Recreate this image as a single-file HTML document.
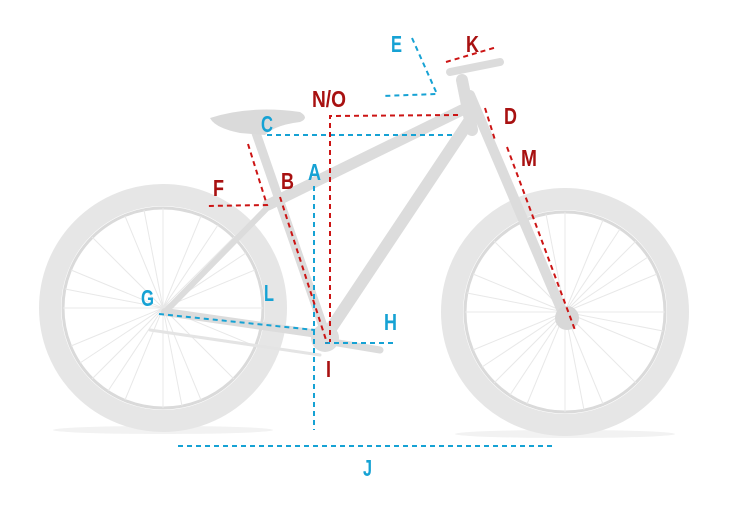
<!DOCTYPE html>
<html><head><meta charset="utf-8"><style>
html,body{margin:0;padding:0;background:#fff;width:756px;height:507px;overflow:hidden}
text{font-family:"Liberation Sans",sans-serif;font-weight:bold;font-size:23px}
.b{fill:#16a2d4}.r{fill:#a81111}
</style></head><body>
<svg width="756" height="507" viewBox="0 0 756 507">
<defs>
<g id="sp" stroke="#e8e8e8" stroke-width="1">
<line x1="-100" y1="0" x2="100" y2="0"/><line x1="0" y1="-100" x2="0" y2="100"/>
<line x1="-71" y1="-71" x2="71" y2="71"/><line x1="-71" y1="71" x2="71" y2="-71"/>
<line x1="-92" y1="-38" x2="92" y2="38"/><line x1="-92" y1="38" x2="92" y2="-38"/>
<line x1="-38" y1="-92" x2="38" y2="92"/><line x1="-38" y1="92" x2="38" y2="-92"/>
<line x1="-98" y1="-19" x2="98" y2="19"/><line x1="-19" y1="-98" x2="19" y2="98"/>
<line x1="-83" y1="55" x2="83" y2="-55"/><line x1="-55" y1="83" x2="55" y2="-83"/>
</g>
</defs>
<ellipse cx="163" cy="430" rx="110" ry="4" fill="#f2f2f2"/>
<ellipse cx="565" cy="434" rx="110" ry="4" fill="#f2f2f2"/>
<g transform="translate(163,308)">
<circle r="113" fill="none" stroke="#e6e6e6" stroke-width="22"/>
<circle r="100" fill="none" stroke="#dadada" stroke-width="3"/>
<use href="#sp"/>
</g>
<g transform="translate(565,312)">
<circle r="113" fill="none" stroke="#e6e6e6" stroke-width="22"/>
<circle r="100" fill="none" stroke="#dadada" stroke-width="3"/>
<use href="#sp"/>
</g>
<g stroke="#dcdcdc" stroke-linecap="round" fill="none">
<line x1="268" y1="205" x2="462" y2="110" stroke-width="11"/>
<line x1="330" y1="330" x2="470" y2="120" stroke-width="12"/>
<line x1="255" y1="130" x2="325" y2="332" stroke-width="9"/>
<line x1="165" y1="312" x2="325" y2="335" stroke-width="8"/>
<line x1="165" y1="312" x2="270" y2="205" stroke-width="6"/>
<line x1="470" y1="95" x2="565" y2="318" stroke-width="10"/>
<line x1="462" y1="80" x2="472" y2="130" stroke-width="12"/>
<line x1="450" y1="72" x2="500" y2="62" stroke-width="8"/>
<line x1="320" y1="340" x2="380" y2="350" stroke-width="7"/>
<line x1="150" y1="330" x2="320" y2="355" stroke-width="3" stroke="#e4e4e4"/>
</g>
<path d="M210,118 Q250,105 300,112 Q310,118 300,122 Q275,125 265,135 L240,133 Q215,128 210,118Z" fill="#dadada"/>
<circle cx="325" cy="338" r="14" fill="#dedede"/>
<circle cx="567" cy="318" r="12" fill="#d8d8d8"/>
<g fill="none" stroke-width="2" stroke-dasharray="5,4">
<g stroke="#16a2d4">
<polyline points="412,38 437,94 382,96"/>
<line x1="267" y1="135" x2="452" y2="135"/>
<line x1="314" y1="186" x2="314" y2="430"/>
<line x1="159" y1="314" x2="315" y2="330"/>
<line x1="325" y1="343" x2="395" y2="343"/>
<line x1="178" y1="446" x2="552" y2="446"/>
</g>
<g stroke="#cc1414">
<line x1="446" y1="62" x2="497" y2="47"/>
<polyline points="458,115 330,116 330,342"/>
<line x1="485" y1="108" x2="495" y2="140"/>
<line x1="507" y1="147" x2="575" y2="330"/>
<polyline points="248,144 267,205 206,206"/>
<line x1="280" y1="197" x2="327" y2="343"/>
</g>
</g>
<g lengthAdjust="spacingAndGlyphs">
<text class="b" x="391" y="52" textLength="11" lengthAdjust="spacingAndGlyphs">E</text>
<text class="r" x="466" y="52" textLength="13" lengthAdjust="spacingAndGlyphs">K</text>
<text class="r" x="312" y="107" textLength="34" lengthAdjust="spacingAndGlyphs">N/O</text>
<text class="b" x="261" y="132" textLength="12" lengthAdjust="spacingAndGlyphs">C</text>
<text class="r" x="504" y="124" textLength="13" lengthAdjust="spacingAndGlyphs">D</text>
<text class="r" x="521" y="166" textLength="16" lengthAdjust="spacingAndGlyphs">M</text>
<text class="r" x="213" y="196" textLength="11" lengthAdjust="spacingAndGlyphs">F</text>
<text class="r" x="281" y="189" textLength="13" lengthAdjust="spacingAndGlyphs">B</text>
<text class="b" x="308" y="180" textLength="13" lengthAdjust="spacingAndGlyphs">A</text>
<text class="b" x="141" y="306" textLength="13" lengthAdjust="spacingAndGlyphs">G</text>
<text class="b" x="264" y="301" textLength="10" lengthAdjust="spacingAndGlyphs">L</text>
<text class="b" x="384" y="330" textLength="13" lengthAdjust="spacingAndGlyphs">H</text>
<text class="r" x="326" y="377" textLength="5" lengthAdjust="spacingAndGlyphs">I</text>
<text class="b" x="363" y="476" textLength="9" lengthAdjust="spacingAndGlyphs">J</text>
</g>
</svg>
</body></html>
